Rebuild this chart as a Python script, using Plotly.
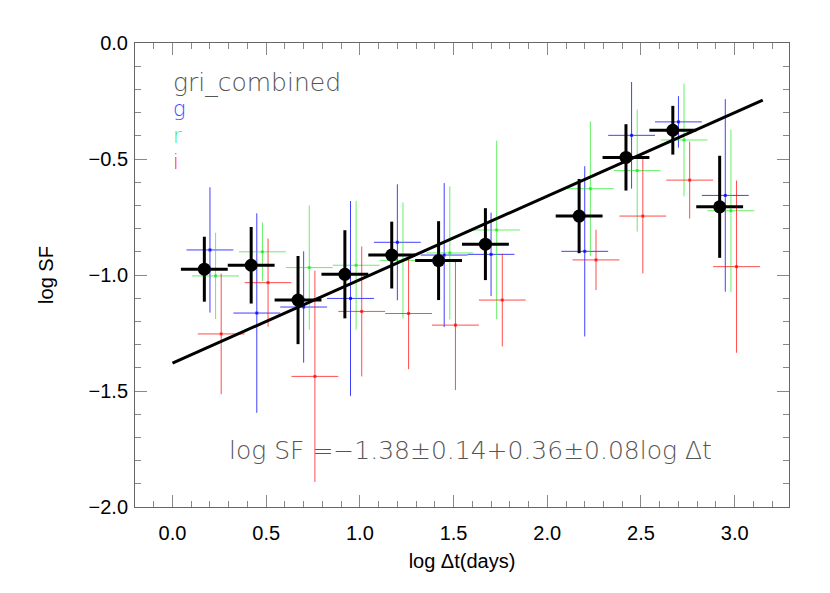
import plotly.graph_objects as go

# binned structure function, log dt (days) vs log SF
x_all = [0.17, 0.42, 0.67, 0.92, 1.17, 1.42, 1.67, 2.17, 2.42, 2.67, 2.92]
y_all = [-0.975, -0.958, -1.108, -0.997, -0.914, -0.938, -0.867, -0.746, -0.493, -0.376, -0.706]
e_all = [0.14, 0.165, 0.19, 0.19, 0.144, 0.17, 0.155, 0.16, 0.143, 0.105, 0.22]

x_g = [0.20, 0.45, 0.70, 0.95, 1.20, 1.45, 1.70, 2.20, 2.45, 2.70, 2.95]
y_g = [-0.892, -1.164, -1.138, -1.101, -0.859, -0.914, -0.911, -0.898, -0.398, -0.34, -0.657]
e_g = [0.27, 0.43, 0.24, 0.42, 0.25, 0.31, 0.18, 0.367, 0.23, 0.111, 0.415]

x_r = [0.23, 0.48, 0.73, 0.98, 1.23, 1.48, 1.73, 2.23, 2.48, 2.73, 2.98]
y_r = [-1.004, -0.90, -0.968, -0.958, -0.937, -0.905, -0.806, -0.628, -0.55, -0.418, -0.723]
e_r = [0.186, 0.126, 0.268, 0.278, 0.25, 0.287, 0.385, 0.29, 0.263, 0.243, 0.35]

x_i = [0.26, 0.51, 0.76, 1.01, 1.26, 1.51, 1.76, 2.26, 2.51, 2.76, 3.01]
y_i = [-1.254, -1.033, -1.437, -1.157, -1.166, -1.216, -1.108, -0.935, -0.746, -0.591, -0.964]
e_i = [0.26, 0.19, 0.455, 0.28, 0.24, 0.28, 0.2, 0.13, 0.247, 0.166, 0.371]

bin_half = 0.125

fit_x = [0.0, 3.15]
fit_y = [-1.38, -0.246]

legend_labels = ["gri_combined", "g", "r", "i"]
legend_y = [-0.17, -0.283, -0.40, -0.513]
legend_sizes = [25, 21, 21, 21]
legend_colors = ["#555555", "#4848ff", "#44ee44", "#ff2828"]

fig = go.Figure()

for xs, ys, es, col in [
    (x_g, y_g, e_g, "rgba(0,0,255,0.75)"),
    (x_r, y_r, e_r, "rgba(0,230,0,0.6)"),
    (x_i, y_i, e_i, "rgba(255,0,0,0.7)"),
]:
    fig.add_trace(go.Scatter(
        x=xs, y=ys, mode="markers",
        marker=dict(symbol="square", size=3, color=col),
        error_x=dict(type="constant", value=bin_half, thickness=1, width=0, color=col),
        error_y=dict(type="data", array=es, thickness=1, width=0, color=col),
        showlegend=False,
    ))

fig.add_trace(go.Scatter(
    x=fit_x, y=fit_y, mode="lines",
    line=dict(color="black", width=3), showlegend=False,
))

fig.add_trace(go.Scatter(
    x=x_all, y=y_all, mode="markers",
    marker=dict(symbol="circle", size=13, color="black"),
    error_x=dict(type="constant", value=bin_half, thickness=3, width=0, color="black"),
    error_y=dict(type="data", array=e_all, thickness=3, width=0, color="black"),
    showlegend=False,
))

for lab, ly, ls, lc in zip(legend_labels, legend_y, legend_sizes, legend_colors):
    fig.add_annotation(x=0.0, y=ly, text=lab, showarrow=False, xanchor="left", yanchor="middle",
                       borderpad=0, font=dict(family="DejaVu Sans", size=ls, color=lc, weight=300))

fig.add_annotation(x=0.29, y=-1.755, text="log SF =\u22121.38\u00b10.14+0.36\u00b10.08log \u0394t",
                   showarrow=False, xanchor="left", yanchor="middle",
                   font=dict(family="DejaVu Sans", size=25, color="#555555", weight=300))

axis_common = dict(
    showgrid=False, zeroline=False, showline=True, linecolor="#666666", linewidth=1,
    mirror="ticks", ticks="inside", ticklen=12, tickcolor="#888888", tickwidth=1,
    tickfont=dict(family="Liberation Sans", size=20, color="black"),
    tickformat=".1f", dtick=0.5,
    minor=dict(ticks="inside", ticklen=6, tickcolor="#888888", dtick=0.1, showgrid=False),
)

fig.update_xaxes(range=[-0.2, 3.29], tick0=0, ticklabelstandoff=8,
                 title=dict(text="log \u0394t(days)", standoff=10,
                            font=dict(family="Liberation Sans", size=20, color="black")),
                 **axis_common)
fig.update_yaxes(range=[-2.0, 0.0], tick0=0, ticklabelstandoff=2,
                 title=dict(text="log SF", standoff=29,
                            font=dict(family="Liberation Sans", size=20, color="black")),
                 **axis_common)

fig.update_layout(
    width=830, height=593,
    margin=dict(l=127, r=49, t=35, b=94),
    plot_bgcolor="white", paper_bgcolor="white",
)

fig.write_html("out.html")
